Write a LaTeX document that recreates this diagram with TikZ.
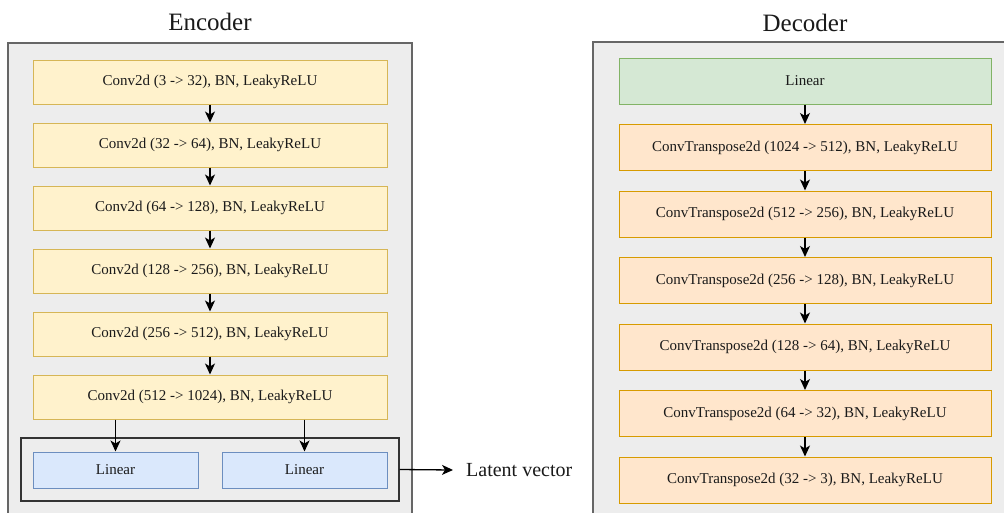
\documentclass[tikz,border=0pt]{standalone}
\usepackage{fontspec}
\setmainfont{Liberation Serif}
\usetikzlibrary{arrows.meta}
\definecolor{encfill}{HTML}{FFF2CC}
\definecolor{encdraw}{HTML}{D6B656}
\definecolor{decfill}{HTML}{FFE6CC}
\definecolor{decdraw}{HTML}{D79B00}
\definecolor{grnfill}{HTML}{D5E8D4}
\definecolor{grndraw}{HTML}{82B366}
\definecolor{blufill}{HTML}{DAE8FC}
\definecolor{bludraw}{HTML}{6C8EBF}
\definecolor{panelfill}{HTML}{EDEDED}
\definecolor{paneldraw}{HTML}{666666}
\definecolor{txt}{HTML}{1A1A1A}
\tikzset{
  blk/.style={rectangle, inner sep=0pt, line width=1pt, text=txt,
    font=\fontsize{15}{18}\selectfont},
  encblk/.style={blk, fill=encfill, draw=encdraw, minimum width=354pt, minimum height=44pt},
  decblk/.style={blk, fill=decfill, draw=decdraw, minimum width=372pt, minimum height=46pt},
  grnblk/.style={blk, fill=grnfill, draw=grndraw, minimum width=372pt, minimum height=46pt},
  linblk/.style={blk, fill=blufill, draw=bludraw, minimum width=165pt, minimum height=36pt},
  panel/.style={fill=panelfill, draw=paneldraw, line width=1.4pt},
  title/.style={inner sep=0pt, text=txt, font=\fontsize{25}{30}\selectfont},
  arr/.style={-{Stealth[length=11pt,width=10pt,inset=3pt]}, line width=1.3pt, draw=black},
}
\begin{document}
\begin{tikzpicture}[x=1pt,y=-1pt]
\useasboundingbox (0,0) rectangle (1004,512);
\clip (0,0) rectangle (1004,512);
\fill[white] (0,0) rectangle (1004,512);
% panels
\draw[panel] (8,43) rectangle (412,530);
\draw[panel] (593,42) rectangle (1020,530);
% titles
\node[title] (enctitle) at (210,22) {Encoder};
\node[title] (dectitle) at (805,23) {Decoder};
% encoder
\node[encblk] (e1) at (210,82) {Conv2d (3 -> 32), BN, LeakyReLU};
\node[encblk] (e2) at (210,145) {Conv2d (32 -> 64), BN, LeakyReLU};
\node[encblk] (e3) at (210,208) {Conv2d (64 -> 128), BN, LeakyReLU};
\node[encblk] (e4) at (210,271) {Conv2d (128 -> 256), BN, LeakyReLU};
\node[encblk] (e5) at (210,334) {Conv2d (256 -> 512), BN, LeakyReLU};
\node[encblk] (e6) at (210,397) {Conv2d (512 -> 1024), BN, LeakyReLU};
\node[rectangle, draw=black!80, line width=1.4pt, minimum width=378pt, minimum height=63pt, inner sep=0pt] (cont) at (210,469.5) {};
\node[linblk] (l1) at (115.5,470) {Linear};
\node[linblk] (l2) at (304.5,470) {Linear};
\node[anchor=west, inner sep=0pt, text=txt, font=\fontsize{20}{24}\selectfont] (latent) at (466,470) {Latent vector};
\foreach \a/\b in {e1/e2,e2/e3,e3/e4,e4/e5,e5/e6}
  \draw[arr] (\a.south) -- (\b.north);
\draw[arr] (e6.south -| l1.north) -- (l1.north);
\draw[arr] (e6.south -| l2.north) -- (l2.north);
\draw[arr] (cont.east) -- ([xshift=-13pt]latent.west);
% decoder
\node[grnblk] (d0) at (805,81) {Linear};
\node[decblk] (d1) at (805,147.5) {ConvTranspose2d (1024 -> 512), BN, LeakyReLU};
\node[decblk] (d2) at (805,214) {ConvTranspose2d (512 -> 256), BN, LeakyReLU};
\node[decblk] (d3) at (805,280.5) {ConvTranspose2d (256 -> 128), BN, LeakyReLU};
\node[decblk] (d4) at (805,347) {ConvTranspose2d (128 -> 64), BN, LeakyReLU};
\node[decblk] (d5) at (805,413.5) {ConvTranspose2d (64 -> 32), BN, LeakyReLU};
\node[decblk] (d6) at (805,480) {ConvTranspose2d (32 -> 3), BN, LeakyReLU};
\foreach \a/\b in {d0/d1,d1/d2,d2/d3,d3/d4,d4/d5,d5/d6}
  \draw[arr] (\a.south) -- (\b.north);
\end{tikzpicture}
\end{document}
